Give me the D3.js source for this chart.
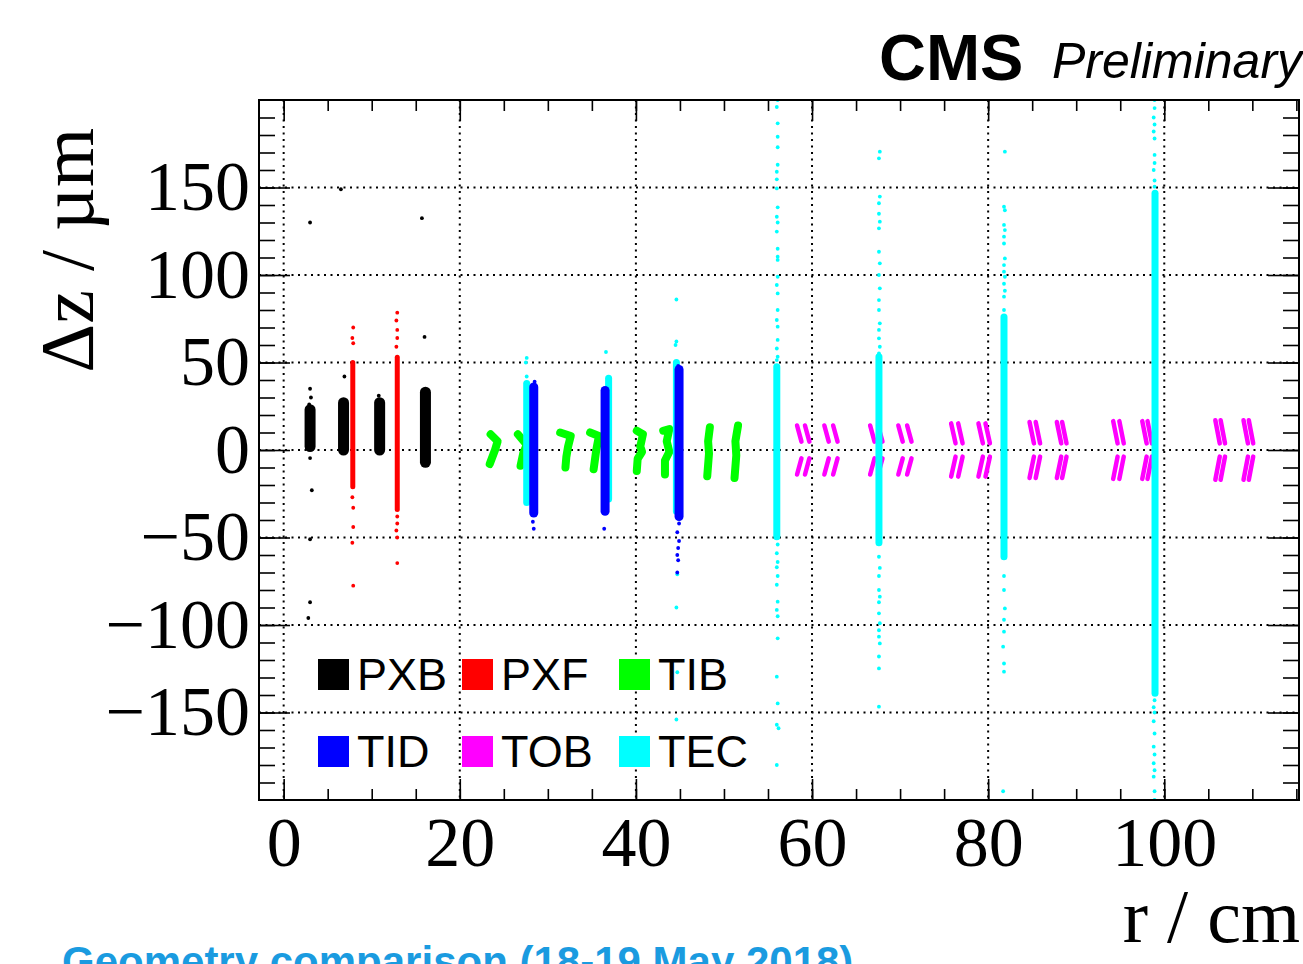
<!DOCTYPE html>
<html>
<head>
<meta charset="utf-8">
<script src="https://d3js.org/d3.v7.min.js"></script>
<style>
  body { margin: 0; background: #fff; overflow: hidden; }
  .tick text { font-family: "Liberation Serif", "Times New Roman", serif; font-size: 70px; fill: #000; }
</style>
</head>
<body>
<script>
// axis ticks
var xMajor = [0, 20, 40, 60, 80, 100];
var xMinor = d3.range(0, 116, 5);
var yMajor = [-150, -100, -50, 0, 50, 100, 150];
var yMinor = d3.range(-190, 200, 10);

var legendNames = ["PXB", "PXF", "TIB", "TID", "TOB", "TEC"];
var legendColors = ["#000000", "#ff0000", "#00ff00", "#0000ff", "#ff00ff", "#00ffff"];

// dense columns: [r, zLow, zHigh]
var pxbBands = [[3.0, 2, 23], [6.8, 0, 27], [10.9, 0, 27], [16.1, -7, 33]];
var pxfBands = [[7.85, -21, 50], [12.9, -34, 53]];
var tidBands = [[28.4, -36, 36], [36.5, -35, 34], [44.9, -38, 46]];
var tecBands = [[27.6, -30, 38], [36.9, -28, 41], [44.6, -35, 50], [56.0, -49.5, 47.6],
                [67.6, -53, 53.3], [81.8, -61, 76], [98.95, -139, 146.7]];

// single modules outside the dense columns: [r, z]
var pxbPoints = [[3.0, 35], [3.1, 30], [2.9, 26], [3.0, -4.6], [3.2, -23], [3.0, -51], [3.0, -87], [2.8, -96],
                 [3.0, 130], [6.5, 149], [15.7, 132.5], [16.0, 64.6], [6.9, 42], [10.8, 31]];
var pxfPoints = [[7.9, 70], [7.8, 64], [7.9, 61], [7.8, -27], [7.9, -33], [7.9, -44], [7.8, -53], [7.9, -77.5],
                 [12.9, 78.5], [12.8, 74], [12.9, 68.6], [12.9, 64], [12.8, 59],
                 [12.9, -38], [12.9, -42], [12.8, -46], [12.9, -50], [12.9, -64.6]];
var tidPoints = [[28.5, 39], [28.3, -41], [28.4, -45], [36.4, -45], [44.8, 48], [44.9, -42], [44.7, -47],
                 [44.9, -52], [44.8, -56], [44.7, -60], [44.8, -63], [44.7, -70]];
var tecPoints = [
  [27.6, 42], [27.5, 50], [27.6, 52.6], [36.6, 56],
  [44.5, 60], [44.6, 62], [44.6, 86], [44.7, -71], [44.6, -90], [44.7, -127], [44.6, -154],
  [56.1, 200], [56.0, 196], [56.1, 186.7], [56.1, 179], [56.1, 173], [56.1, 163], [56.0, 159], [56.0, 154.7],
  [56.0, 149.5], [56.1, 138.7], [56.0, 133.3], [56.1, 130], [56.0, 124.8], [56.1, 115], [56.1, 110.5],
  [56.1, 108.6], [56.1, 99], [56.0, 94.3], [56.1, 89.5], [56.1, 80], [56.0, 74.3], [56.1, 70.5], [56.1, 62.9],
  [56.0, 58], [56.1, 53.3], [56.0, 51.4],
  [56.1, -54], [56.0, -59], [56.1, -64], [56.0, -67], [56.1, -72], [56.0, -77], [56.1, -86.7], [56.0, -91.4],
  [56.1, -95], [56.1, -107.6], [56.0, -129.5], [56.1, -144.8], [56.0, -157], [56.2, -159], [56.0, -180],
  [67.7, 170.5], [67.6, 166.7], [67.7, 144.8], [67.6, 141], [67.6, 135], [67.7, 130.5], [67.6, 126.7],
  [67.6, 113.3], [67.7, 106.7], [67.6, 100], [67.7, 92.4], [67.6, 85.7], [67.6, 80], [67.7, 72.4],
  [67.6, 68.6], [67.6, 63.8], [67.7, 59], [67.6, 55.2],
  [67.6, -61], [67.7, -67.4], [67.6, -72], [67.6, -80], [67.7, -83.8], [67.6, -87], [67.6, -93.3],
  [67.7, -99], [67.6, -103], [67.6, -106.7], [67.7, -110.5], [67.6, -118], [67.6, -124.8], [67.6, -146.7],
  [81.9, 170.5], [81.8, 139], [81.9, 137], [81.8, 128.6], [81.9, 125.7], [81.8, 121.9], [81.8, 118],
  [81.9, 109.5], [81.8, 105.7], [81.8, 101.9], [81.9, 99], [81.8, 95], [81.9, 91], [81.8, 87.6], [81.8, 80],
  [81.8, -72], [81.8, -80], [81.9, -90.5], [81.8, -97], [81.8, -103.8], [81.7, -112.4], [81.8, -122],
  [81.8, -126.7], [81.7, -195],
  [98.9, 200], [98.9, 195.4], [98.8, 190], [98.9, 186], [98.8, 182], [98.9, 178], [98.9, 168.6], [98.9, 164],
  [98.8, 160], [98.9, 154], [98.9, 150.5],
  [98.9, -143], [98.8, -147], [98.9, -150], [98.8, -155], [98.9, -162], [98.8, -169.5], [98.9, -174],
  [98.8, -179], [98.9, -183], [98.8, -186.7], [98.9, -195], [98.9, -200]
];

// TIB modules, traced as [r, z] paths
var tibTracks = [
  [[23.5, 9], [24.3, 5], [24.0, 0], [23.7, -4], [23.4, -8]],
  [[26.6, 9], [27.6, 3], [27.2, -2], [26.9, -9]],
  [[31.4, 10], [32.6, 8], [32.3, 2], [32.1, -4], [32.0, -10]],
  [[34.8, 10], [35.8, 8], [35.5, 0], [35.2, -11]],
  [[40.1, 11], [40.8, 9], [40.5, 2], [40.7, -1], [40.2, -5], [40.1, -12]],
  [[43.1, 11], [43.8, 12], [43.5, 5], [43.8, -1], [43.3, -6], [43.3, -14]],
  [[48.4, 13], [48.2, 5], [48.3, -2], [48.1, -15]],
  [[51.6, 14], [51.3, 5], [51.4, -3], [51.2, -16]]
];

// TOB rods: [r, outer |z|, inner |z|]
var tobRods = [
  [58.3, 14, 4.8], [59.2, 14, 4.8], [61.4, 14, 4.8], [62.4, 14, 4.8],
  [66.6, 14, 4.8], [67.5, 14, 4.8], [69.8, 14, 4.8], [70.8, 14, 4.8],
  [75.8, 15.2, 3.8], [76.6, 15.2, 3.8], [78.9, 15.2, 3.8], [79.7, 15.2, 3.8],
  [84.7, 16, 3.8], [85.4, 16, 3.8], [87.8, 16, 3.8], [88.4, 16, 3.8],
  [94.2, 16.5, 3.8], [94.9, 16.5, 3.8], [97.5, 16.5, 3.8], [98.1, 16.5, 3.8],
  [105.8, 17, 3.8], [106.4, 17, 3.8], [109.0, 17, 3.8], [109.6, 17, 3.8]
];
var tobTilt = 0.5;

var width = 1303,
    height = 964;

var svg = d3.select("body").append("svg")
  .attr("width", width)
  .attr("height", height);

var x = d3.scaleLinear().domain([-2.8, 115.3]).range([259, 1299]);
var y = d3.scaleLinear().domain([-200, 200]).range([800, 100]);

svg.append("clipPath").attr("id", "frame")
  .append("rect")
  .attr("x", 259).attr("y", 100).attr("width", 1040).attr("height", 700);

// dotted grid
var grid = svg.append("g")
  .attr("stroke", "#000")
  .attr("stroke-width", 2)
  .attr("stroke-dasharray", "2,4.5");
grid.selectAll(".gx").data(xMajor).enter().append("line")
  .attr("x1", function(d){return x(d);}).attr("x2", function(d){return x(d);})
  .attr("y1", 100).attr("y2", 800);
grid.selectAll(".gy").data(yMajor).enter().append("line")
  .attr("y1", function(d){return y(d);}).attr("y2", function(d){return y(d);})
  .attr("x1", 259).attr("x2", 1299);

var plot = svg.append("g").attr("clip-path", "url(#frame)");

function drawBands(data, color, w) {
  plot.append("g").selectAll("line").data(data).enter().append("line")
    .attr("x1", function(d){return x(d[0]);})
    .attr("x2", function(d){return x(d[0]);})
    .attr("y1", function(d){return y(d[1]);})
    .attr("y2", function(d){return y(d[2]);})
    .attr("stroke", color)
    .attr("stroke-width", w)
    .attr("stroke-linecap", "round");
}

function drawPoints(data, color) {
  plot.append("g").selectAll("circle").data(data).enter().append("circle")
    .attr("cx", function(d){return x(d[0]);})
    .attr("cy", function(d){return y(d[1]);})
    .attr("r", 1.9)
    .attr("fill", color);
}

var line = d3.line()
  .x(function(d){return x(d[0]);})
  .y(function(d){return y(d[1]);});

// PXB, PXF
drawBands(pxbBands, legendColors[0], 11);
drawPoints(pxbPoints, legendColors[0]);
drawBands(pxfBands, legendColors[1], 5);
drawPoints(pxfPoints, legendColors[1]);

// TIB
plot.append("g").selectAll("path").data(tibTracks).enter().append("path")
  .attr("d", line)
  .attr("fill", "none")
  .attr("stroke", legendColors[2])
  .attr("stroke-width", 8)
  .attr("stroke-linecap", "round")
  .attr("stroke-linejoin", "round");

// TOB, upper and lower halves of each rod
var tobSegs = [];
tobRods.forEach(function(d) {
  tobSegs.push([[d[0], d[1]], [d[0] + tobTilt, d[2]]]);
  tobSegs.push([[d[0] + tobTilt, -d[2]], [d[0], -d[1]]]);
});
plot.append("g").selectAll("path").data(tobSegs).enter().append("path")
  .attr("d", line)
  .attr("stroke", legendColors[4])
  .attr("stroke-width", 4.5)
  .attr("stroke-linecap", "round");

// TEC then TID
drawBands(tecBands, legendColors[5], 7);
drawPoints(tecPoints, legendColors[5]);
drawBands(tidBands, legendColors[3], 9);
drawPoints(tidPoints, legendColors[3]);

// axes, ticks inside the frame
function clean(g) { g.select(".domain").remove(); }
var fmt = d3.format("d");

svg.append("g").attr("transform", "translate(0,800)")
  .call(d3.axisBottom(x).tickValues(xMinor).tickSize(-11).tickFormat(""))
  .call(clean);
svg.append("g").attr("transform", "translate(0,800)")
  .call(d3.axisBottom(x).tickValues(xMajor).tickSizeInner(-21).tickSizeOuter(0).tickPadding(16).tickFormat(fmt))
  .call(clean);
svg.append("g").attr("transform", "translate(0,100)")
  .call(d3.axisTop(x).tickValues(xMinor).tickSize(-11).tickFormat(""))
  .call(clean);
svg.append("g").attr("transform", "translate(0,100)")
  .call(d3.axisTop(x).tickValues(xMajor).tickSize(-21).tickFormat(""))
  .call(clean);

svg.append("g").attr("transform", "translate(259,0)")
  .call(d3.axisLeft(y).tickValues(yMinor).tickSize(-16).tickFormat(""))
  .call(clean);
svg.append("g").attr("transform", "translate(259,0)")
  .call(d3.axisLeft(y).tickValues(yMajor).tickSizeInner(-31).tickSizeOuter(0).tickPadding(9).tickFormat(fmt))
  .call(clean);
svg.append("g").attr("transform", "translate(1299,0)")
  .call(d3.axisRight(y).tickValues(yMinor).tickSize(-16).tickFormat(""))
  .call(clean);
svg.append("g").attr("transform", "translate(1299,0)")
  .call(d3.axisRight(y).tickValues(yMajor).tickSize(-31).tickFormat(""))
  .call(clean);

svg.selectAll(".tick line").attr("stroke", "#000").attr("stroke-width", 1.6);

svg.append("rect")
  .attr("x", 259).attr("y", 100).attr("width", 1040).attr("height", 700)
  .attr("fill", "none")
  .attr("stroke", "#000")
  .attr("stroke-width", 2);

// axis titles
svg.append("text")
  .attr("transform", "translate(93,128) rotate(-90)")
  .attr("text-anchor", "end")
  .style("font-family", "'Liberation Serif', serif")
  .style("font-size", "76px")
  .text("\u0394z / \u00b5m");

svg.append("text")
  .attr("x", 1300).attr("y", 942)
  .attr("text-anchor", "end")
  .style("font-family", "'Liberation Serif', serif")
  .style("font-size", "76px")
  .text("r / cm");

// CMS label
svg.append("text")
  .attr("x", 879).attr("y", 80)
  .style("font-family", "'Liberation Sans', Arial, sans-serif")
  .style("font-weight", "bold")
  .style("font-size", "65px")
  .text("CMS");
svg.append("text")
  .attr("x", 1052).attr("y", 78)
  .style("font-family", "'Liberation Sans', Arial, sans-serif")
  .style("font-style", "italic")
  .style("font-size", "50px")
  .text("Preliminary");

// legend, 3 columns x 2 rows
var legend = svg.append("g").selectAll("g").data(legendNames).enter().append("g")
  .attr("transform", function(d, i) {
    var cx = [318, 462, 619][i % 3];
    var cy = i < 3 ? 659 : 736;
    return "translate(" + cx + "," + cy + ")";
  });
legend.append("rect")
  .attr("width", 31).attr("height", 31)
  .attr("fill", function(d, i){return legendColors[i];});
legend.append("text")
  .attr("x", 39).attr("y", 31)
  .style("font-family", "'Liberation Sans', Arial, sans-serif")
  .style("font-size", "45px")
  .text(function(d){return d;});

// caption below, cut by the page edge
svg.append("text")
  .attr("x", 62).attr("y", 976)
  .attr("fill", "#1a9be0")
  .style("font-family", "'Liberation Sans', Arial, sans-serif")
  .style("font-weight", "bold")
  .style("font-size", "42px")
  .text("Geometry comparison (18-19 May 2018)");
</script>
</body>
</html>
